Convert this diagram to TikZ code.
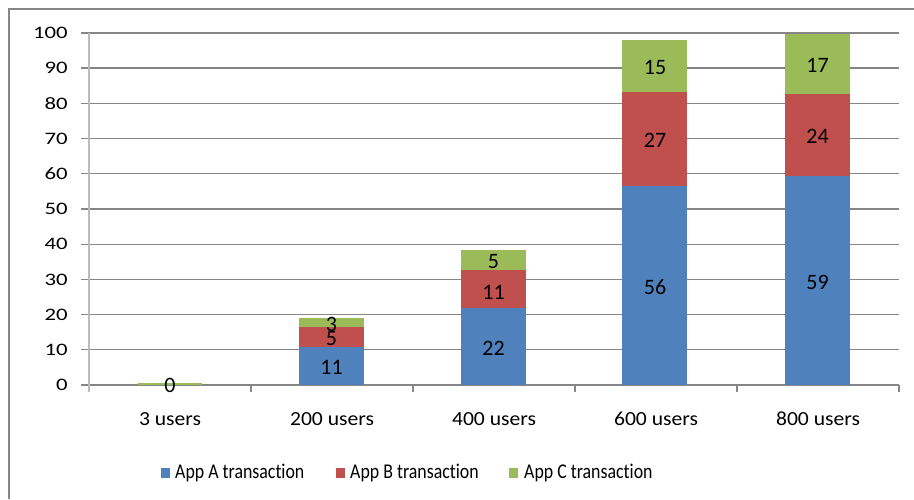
\documentclass[tikz,border=0pt]{standalone}
\usepackage{fontspec}
\setmainfont{Carlito}[Ligatures=NoCommon]
\definecolor{cA}{HTML}{4F81BD}
\definecolor{cB}{HTML}{C0504D}
\definecolor{cC}{HTML}{9BBB59}
\definecolor{grid}{HTML}{868686}
\definecolor{axisc}{HTML}{BBBBBB}
\begin{document}
\begin{tikzpicture}[x=1pt,y=-1pt,
  gridline/.style={draw=grid,line width=1.1pt},
  ticklab/.style={anchor=east,inner sep=0pt,font=\fontsize{17.5}{20}\selectfont,xscale=1.3},
  catlab/.style={inner sep=0pt,font=\fontsize{20}{24}\selectfont,xscale=1.08},
  barlab/.style={inner sep=0pt,font=\fontsize{22}{24}\selectfont},
  leglab/.style={anchor=west,inner sep=0pt,font=\fontsize{21}{24}\selectfont,xscale=0.85},
  segA/.style={fill=cA},
  segB/.style={fill=cB},
  segC/.style={fill=cC}]
\useasboundingbox (0,0) rectangle (914,499);
\fill[white] (0,0) rectangle (914,499);
% frame
\draw[grid,line width=1.6pt] (9,499) -- (9,9) -- (914,9);
% gridlines and tick labels
\foreach \v in {0,10,...,100}{
  \pgfmathsetmacro\yy{385-3.52*\v}
  \draw[gridline] (81,\yy) -- (899,\yy);
  \node[ticklab] (t\v) at (68,\yy) {\v};
}
\draw[grid,line width=2pt] (81,68.2) -- (899,68.2);
% axes
\draw[axisc,line width=1.1pt] (89,33) -- (89,392);
\foreach \xx in {251,413,575,737,899}{
  \draw[grid,line width=1.1pt] (\xx,385) -- (\xx,392);
}
% 3 users
\fill[cC] (138,385) rectangle (202,382.5);
% 200 users
\fill[segA] (299,{385-3.52*10.8}) rectangle (364,385);
\fill[segB] (299,{385-3.52*16.5}) rectangle (364,{385-3.52*10.8});
\fill[segC] (299,{385-3.52*19.0}) rectangle (364,{385-3.52*16.5});
% 400 users
\fill[segA] (461,{385-3.52*22.0}) rectangle (526,385);
\fill[segB] (461,{385-3.52*32.7}) rectangle (526,{385-3.52*22.0});
\fill[segC] (461,{385-3.52*38.4}) rectangle (526,{385-3.52*32.7});
% 600 users
\fill[segA] (622,{385-3.52*56.6}) rectangle (687,385);
\fill[segB] (622,{385-3.52*83.3}) rectangle (687,{385-3.52*56.6});
\fill[segC] (622,{385-3.52*98.0}) rectangle (687,{385-3.52*83.3});
% 800 users
\fill[segA] (785,{385-3.52*59.5}) rectangle (850,385);
\fill[segB] (785,{385-3.52*82.7}) rectangle (850,{385-3.52*59.5});
\fill[segC] (785,{385-3.52*99.7}) rectangle (850,{385-3.52*82.7});
% bar labels
\node[barlab] (l0) at (170,385) {0};
\node[barlab] (l1a) at (331.5,367) {11};
\node[barlab] (l1b) at (331.5,339) {5};
\node[barlab] (l1c) at (331.5,324) {3};
\node[barlab] (l2a) at (493.5,348) {22};
\node[barlab] (l2b) at (493.5,292) {11};
\node[barlab] (l2c) at (493.5,262) {5};
\node[barlab] (l3a) at (655,287) {56};
\node[barlab] (l3b) at (655,140) {27};
\node[barlab] (l3c) at (655,67) {15};
\node[barlab] (l4a) at (817.5,282) {59};
\node[barlab] (l4b) at (817.5,136) {24};
\node[barlab] (l4c) at (817.5,65) {17};
% category labels
\node[catlab] (c0) at (170,419) {3 users};
\node[catlab] (c1) at (332,419) {200 users};
\node[catlab] (c2) at (494,419) {400 users};
\node[catlab] (c3) at (656,419) {600 users};
\node[catlab] (c4) at (818,419) {800 users};
% legend
\fill[cA] (161,468) rectangle (170,478);
\node[leglab] (la) at (175,473) {App A transaction};
\fill[cB] (336,468) rectangle (345,478);
\node[leglab] (lb) at (350,473) {App B transaction};
\fill[cC] (509,468) rectangle (518,478);
\node[leglab] (lc) at (524,473) {App C transaction};
\end{tikzpicture}
\end{document}
